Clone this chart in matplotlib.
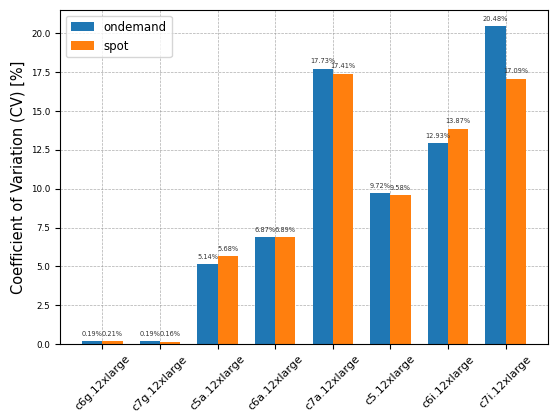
import matplotlib
matplotlib.use("Agg")
import matplotlib.pyplot as plt
import numpy as np

categories = ["c6g.12xlarge", "c7g.12xlarge", "c5a.12xlarge", "c6a.12xlarge",
              "c7a.12xlarge", "c5.12xlarge", "c6i.12xlarge", "c7i.12xlarge"]
ondemand = [0.19, 0.19, 5.14, 6.87, 17.73, 9.72, 12.93, 20.48]
spot = [0.21, 0.16, 5.68, 6.89, 17.41, 9.58, 13.87, 17.09]

fig = plt.figure(figsize=(5.5, 4.12), dpi=100)
ax = fig.add_axes([60/550, 1-344/412, 488/550, 334/412])

x = np.arange(len(categories))
w = 0.35
b1 = ax.bar(x - w/2, ondemand, w, label="ondemand", color="#1f77b4", zorder=2)
b2 = ax.bar(x + w/2, spot, w, label="spot", color="#ff7f0e", zorder=2)

for bars, vals in ((b1, ondemand), (b2, spot)):
    for r, v in zip(bars, vals):
        ax.annotate(f"{v:.2f}%", (r.get_x() + r.get_width()/2, r.get_height()),
                    xytext=(0, 3), textcoords="offset points",
                    ha="center", va="bottom", fontsize=4.8, color="#333333")

ax.set_xticks(x)
ax.set_xticklabels(categories, rotation=45, ha="center", fontsize=8)
ax.tick_params(axis="y", labelsize=6.3)
ax.set_ylabel("Coefficient of Variation (CV) [%]", fontsize=10.5, labelpad=4)
ax.grid(True, linestyle="--", color="#999999", alpha=0.8, linewidth=0.5, zorder=0)
ax.set_axisbelow(True)
ax.legend(loc="upper left", fontsize=8.5)

fig.savefig("out.png", dpi=100)
